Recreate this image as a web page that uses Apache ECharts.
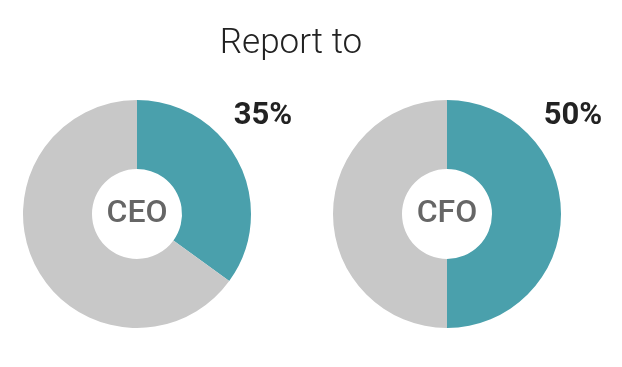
<!DOCTYPE html>
<html><head><meta charset="utf-8">
<script src="https://cdn.jsdelivr.net/npm/echarts@6/dist/echarts.min.js"></script>
<style>html,body{margin:0;padding:0;background:#fff}#c{width:622px;height:367px}</style>
</head><body><div id="c"></div>
<script>
const chartTitle = 'Report to';
const categories = ['CEO', 'CFO'];
const shareValues = [35, 50];
const centersX = [137, 447];

const teal = '#4aa0ac';
const grey = '#c8c8c8';

const series = categories.map((name, i) => ({
  type: 'pie',
  center: [centersX[i], 214],
  radius: [45, 114],
  startAngle: 90,
  clockwise: true,
  silent: true,
  label: {
    show: true, position: 'center',
    formatter: () => name,
    fontFamily: 'Roboto', fontWeight: 500, fontSize: 32, color: '#666666'
  },
  labelLine: { show: false },
  emphasis: { disabled: true },
  data: [
    { value: shareValues[i], name: name + ' yes', itemStyle: { color: teal } },
    { value: 100 - shareValues[i], name: name + ' no', itemStyle: { color: grey }, label: { show: false } }
  ]
}));

const titles = [{
  text: chartTitle, left: 286, top: 22, textAlign: 'center',
  textStyle: { fontFamily: 'Roboto', fontWeight: 300, fontSize: 35, color: '#222' }
}].concat(categories.map((n, i) => ({
  text: shareValues[i] + '%', left: centersX[i] + 121, top: 96, textAlign: 'center',
  textStyle: { fontFamily: 'Roboto', fontWeight: 'bold', fontSize: 31, color: '#222' }
})));

const chart = echarts.init(document.getElementById('c'), null, { renderer: 'canvas' });
chart.setOption({ animation: false, title: titles, series: series });
</script></body></html>
